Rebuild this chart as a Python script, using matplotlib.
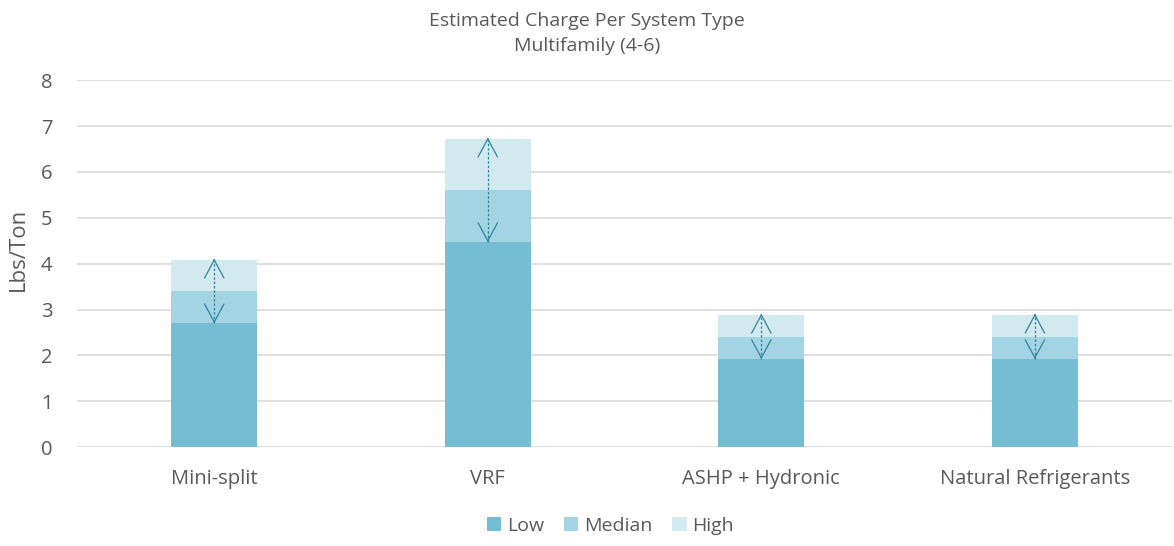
import matplotlib.pyplot as plt
import numpy as np

plt.rcParams['font.family'] = ['Open Sans', 'DejaVu Sans']

categories = ['Mini-split', 'VRF', 'ASHP + Hydronic', 'Natural Refrigerants']
low = [2.7, 4.47, 1.92, 1.92]
median = [3.4, 5.6, 2.4, 2.4]
high = [4.08, 6.72, 2.88, 2.88]

c_low = '#74BDD3'
c_med = '#A3D4E3'
c_high = '#D2E9F0'
c_arrow = '#31859C'
grey = '#595959'

fig = plt.figure(figsize=(11.74, 5.46), dpi=100)
ax = fig.add_axes([0.066, 0.181, 0.932, 0.672])

x = np.arange(len(categories))
w = 0.315
med_part = np.array(median) - np.array(low)
high_part = np.array(high) - np.array(median)
ax.bar(x, low, w, color=c_low, label='Low', zorder=2)
ax.bar(x, med_part, w, bottom=low, color=c_med, label='Median', zorder=2)
ax.bar(x, high_part, w, bottom=median, color=c_high, label='High', zorder=2)

# double arrows from low to high
for xi, lo, hi in zip(x, low, high):
    ax.vlines(xi, lo, hi + 0.03, colors=c_arrow, linestyles=(0, (2, 1.5)), linewidth=0.9, zorder=3)
    for tip, tail in ((hi + 0.03, hi), (lo, lo + 0.03)):
        ax.annotate('', xy=(xi, tip), xytext=(xi, tail),
                    arrowprops=dict(arrowstyle='->,head_length=1.3,head_width=0.7',
                                    color=c_arrow, lw=0.9, shrinkA=0, shrinkB=0),
                    zorder=3)

ax.set_xlim(-0.5, len(categories) - 0.5)
ax.set_ylim(0, 8)
ax.set_yticks(range(0, 9))
ax.yaxis.grid(True, color='#D9D9D9', linewidth=1.2, zorder=0)
ax.set_axisbelow(True)
for s in ax.spines.values():
    s.set_visible(False)
ax.tick_params(length=0, labelsize=14.5, colors=grey)
ax.tick_params(axis='y', pad=18)
ax.tick_params(axis='x', pad=16)
ax.set_xticks(x)
ax.set_xticklabels(categories)
ax.set_ylabel('Lbs/Ton', fontsize=16, color=grey)
ax.yaxis.set_label_coords(-0.044, 0.54)

fig.suptitle('Estimated Charge Per System Type\nMultifamily (4-6)', fontsize=14,
             color=grey, y=0.978, linespacing=1.5)

fig.legend(loc='lower center', bbox_to_anchor=(0.52, -0.012), ncol=3, frameon=False,
           fontsize=14, handlelength=0.75, handleheight=0.75, handletextpad=0.3,
           columnspacing=1.0, labelcolor=grey)

fig.savefig('out.png', dpi=100)
